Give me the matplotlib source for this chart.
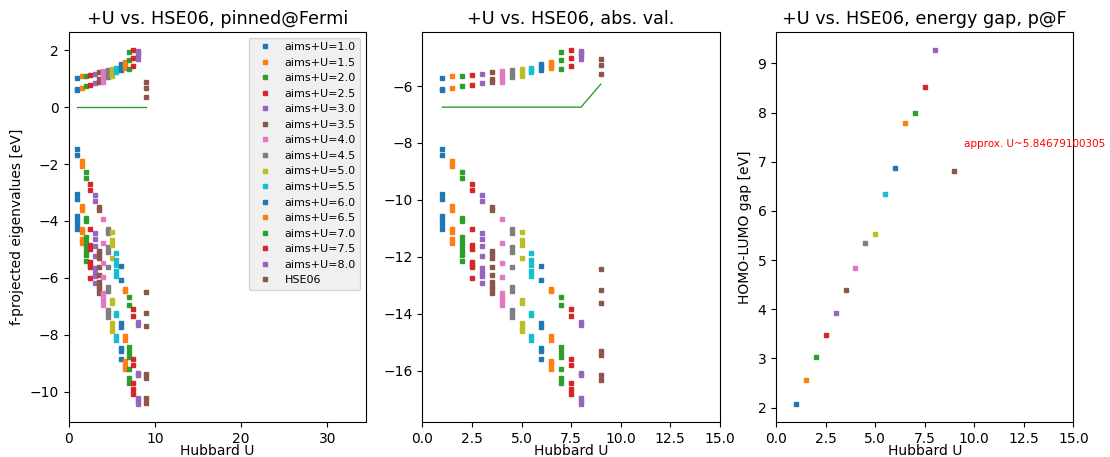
import matplotlib
matplotlib.use('Agg')
import matplotlib.pyplot as plt

# Hubbard U values of the aims+U runs, HSE06 is drawn at U=9
hubbard_u = [1.0, 1.5, 2.0, 2.5, 3.0, 3.5, 4.0, 4.5, 5.0, 5.5, 6.0, 6.5, 7.0, 7.5, 8.0]
hse_x = 9.0
labels = ['aims+U=%.1f' % u for u in hubbard_u] + ['HSE06']

# f-projected eigenvalues, absolute values [eV]
eig_U10 = [-5.71, -6.10, -6.13, -8.21, -8.41, -9.78, -9.98, -10.58, -10.69, -10.86, -11.03]
eig_U15 = [-5.66, -6.07, -8.62, -8.82, -10.23, -10.37, -11.01, -11.13, -11.36, -11.51]
eig_U20 = [-5.65, -6.00, -9.03, -9.22, -10.64, -10.75, -11.32, -11.48, -11.63, -11.79, -11.94, -12.15]
eig_U25 = [-5.60, -5.96, -9.43, -9.64, -11.03, -11.59, -11.71, -12.17, -12.29, -12.37, -12.76]
eig_U30 = [-5.57, -5.90, -9.84, -10.04, -11.16, -11.38, -11.62, -11.98, -12.41, -12.56, -12.66, -12.93]
eig_U35 = [-5.52, -5.75, -5.85, -10.25, -10.37, -11.79, -11.90, -12.06, -12.35, -12.64, -12.87, -13.02, -13.14, -13.28]
eig_U40 = [-5.48, -5.60, -5.72, -5.84, -10.66, -11.53, -12.23, -12.72, -13.28, -13.40, -13.54, -13.69]
eig_U45 = [-5.42, -5.57, -5.68, -11.03, -11.16, -11.67, -11.83, -12.37, -13.05, -13.22, -13.86, -13.98, -14.12]
eig_U50 = [-5.40, -5.50, -5.64, -11.13, -11.42, -11.59, -12.04, -13.51, -13.63, -14.33, -14.51, -14.62]
eig_U55 = [-5.35, -5.44, -5.52, -11.88, -12.12, -12.29, -12.49, -12.66, -13.96, -14.04, -14.80, -14.94]
eig_U60 = [-5.24, -5.34, -5.44, -12.33, -12.81, -14.33, -14.47, -15.20, -15.32, -15.61]
eig_U65 = [-5.14, -5.25, -5.35, -13.13, -13.22, -14.80, -14.91, -15.67, -15.82, -15.96]
eig_U70 = [-4.79, -5.09, -5.40, -13.42, -13.69, -15.18, -15.36, -15.53, -15.96, -16.25, -16.43]
eig_U75 = [-4.72, -5.02, -5.31, -13.84, -14.10, -15.58, -15.82, -16.45, -16.66, -16.84]
eig_U80 = [-4.77, -4.85, -4.92, -5.03, -14.31, -14.39, -16.08, -16.16, -16.95, -17.07, -17.18]
eig_hse = [-5.04, -5.27, -5.56, -12.44, -13.18, -13.64, -15.32, -15.44, -16.16, -16.33]

# Fermi levels [eV]
fermi_aims = -6.74
fermi_hse = -5.93

# HOMO-LUMO gap [eV]
gap_values = [2.07, 2.56, 3.02, 3.47, 3.93, 4.39, 4.84, 5.35, 5.54, 6.34, 6.87, 7.78, 7.99, 8.52, 9.28]
gap_hse = 6.82

series = [eig_U10, eig_U15, eig_U20, eig_U25, eig_U30, eig_U35, eig_U40, eig_U45,
          eig_U50, eig_U55, eig_U60, eig_U65, eig_U70, eig_U75, eig_U80, eig_hse]
xs = hubbard_u + [hse_x]
fermis = [fermi_aims] * len(hubbard_u) + [fermi_hse]
gaps = gap_values + [gap_hse]

fig = plt.figure(figsize=(11.1, 4.57), dpi=100)
plt.subplots_adjust(left=0.062, right=0.967, top=0.93, bottom=0.077, wspace=0.19)
ms = 3

# pinned at Fermi level
ax1 = plt.subplot(1, 3, 1)
for i, (x, vals) in enumerate(zip(xs, series)):
    ax1.plot([x] * len(vals), [v - fermis[i] for v in vals], 's', ms=ms,
             color='C%d' % (i % 10), label=labels[i])
ax1.plot(xs, [f - f for f in fermis], color='C2', lw=1)
ax1.set_xlim(0, 34.5)
ax1.set_xticks([0, 10, 20, 30])
ax1.set_title('+U vs. HSE06, pinned@Fermi', fontsize=12.7)
ax1.set_xlabel('Hubbard U', labelpad=-1)
ax1.set_ylabel('f-projected eigenvalues [eV]')
leg = ax1.legend(loc='upper right', fontsize=8, numpoints=1, markerscale=0.8)
leg.get_frame().set_facecolor('0.93')

# absolute values
ax2 = plt.subplot(1, 3, 2)
for i, (x, vals) in enumerate(zip(xs, series)):
    ax2.plot([x] * len(vals), vals, 's', ms=ms, color='C%d' % (i % 10))
ax2.plot(xs, fermis, color='C2', lw=1)
ax2.set_xlim(0, 15)
ax2.set_title('+U vs. HSE06, abs. val.', fontsize=12.7)
ax2.set_xlabel('Hubbard U', labelpad=-1)

# energy gap
ax3 = plt.subplot(1, 3, 3)
for i, (x, g) in enumerate(zip(xs, gaps)):
    ax3.plot([x], [g], 's', ms=ms, color='C%d' % (i % 10))
ax3.text(9.5, 7.3, 'approx. U~5.84679100305', color='red', fontsize=7.5)
ax3.set_xlim(0, 15)
ax3.set_title('+U vs. HSE06, energy gap, p@F', fontsize=12.7)
ax3.set_xlabel('Hubbard U', labelpad=-1)
ax3.set_ylabel('HOMO-LUMO gap [eV]')

plt.savefig('out.png', dpi=100)
